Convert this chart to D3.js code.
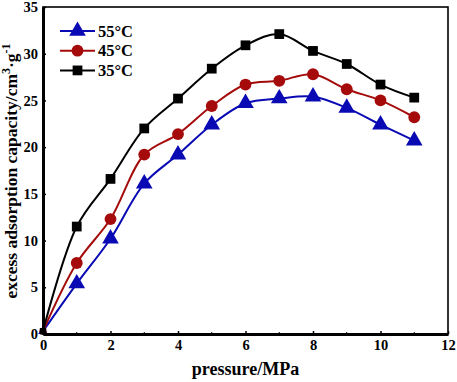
<!DOCTYPE html>
<html>
<head>
<meta charset="utf-8">
<script src="https://cdn.jsdelivr.net/npm/d3@7"></script>
<style>
  body { margin: 0; background: #fff; }
  text { font-family: "Liberation Serif", "Times New Roman", serif; font-weight: bold; }
</style>
</head>
<body>
<div id="chart"></div>
<script>
const pressure = [0, 1, 2, 3, 4, 5, 6, 7, 8, 9, 10, 11];
const cap55 = [0.3, 5.4, 10.2, 16.1, 19.2, 22.4, 24.7, 25.2, 25.4, 24.2, 22.4, 20.7];
const cap45 = [0.3, 7.6, 12.3, 19.2, 21.4, 24.4, 26.7, 27.1, 27.8, 26.2, 25.0, 23.2];
const cap35 = [0.3, 11.5, 16.6, 22.0, 25.2, 28.4, 30.9, 32.1, 30.3, 28.9, 26.7, 25.3];
const seriesNames = ['55°C', '45°C', '35°C'];
const xTicks = [0, 2, 4, 6, 8, 10, 12];
const yTicks = [0, 5, 10, 15, 20, 25, 30, 35];

const width = 457, height = 382;
const margin = { left: 43, right: 9, top: 7, bottom: 48 };

const series = [
    { name: seriesNames[0], values: cap55, color: '#0a0ab4', shape: d3.symbolTriangle, size: 120 },
    { name: seriesNames[1], values: cap45, color: '#a50b0b', shape: d3.symbolCircle, size: 110 },
    { name: seriesNames[2], values: cap35, color: '#000000', shape: d3.symbolSquare, size: 95 }
];

const svg = d3.select("#chart")
    .append("svg")
    .attr("width", width)
    .attr("height", height);

const x = d3.scaleLinear().domain([0, 12]).range([margin.left, width - margin.right]);
const y = d3.scaleLinear().domain([0, 35]).range([height - margin.bottom, margin.top]);

// frame
svg.append("rect")
    .attr("x", x(0)).attr("y", y(35))
    .attr("width", x(12) - x(0)).attr("height", y(0) - y(35))
    .attr("fill", "none").attr("stroke", "#000").attr("stroke-width", 1.6);

const line = d3.line()
    .x((d, i) => x(pressure[i]))
    .y(d => y(d))
    .curve(d3.curveCatmullRom.alpha(0.5));

series.forEach(s => {
    svg.append("path")
        .datum(s.values)
        .attr("d", line)
        .attr("fill", "none")
        .attr("stroke", s.color)
        .attr("stroke-width", 2);
    svg.append("g")
        .selectAll("path")
        .data(s.values)
        .enter()
        .append("path")
        .attr("transform", (d, i) => `translate(${x(pressure[i])},${y(d)})`)
        .attr("d", (d, i) => d3.symbol().type(s.shape).size(i === 0 ? 40 : s.size)())
        .attr("fill", s.color);
});

// axes (thick left / bottom, inward ticks)
const xAxis = svg.append("g")
    .attr("transform", `translate(0,${y(0)})`)
    .call(d3.axisBottom(x).tickValues(xTicks).tickSizeInner(-3).tickSizeOuter(0).tickPadding(6));
const yAxis = svg.append("g")
    .attr("transform", `translate(${x(0)},0)`)
    .call(d3.axisLeft(y).tickValues(yTicks).tickSizeInner(-3).tickSizeOuter(0).tickPadding(5));

[xAxis, yAxis].forEach(a => {
    a.select(".domain").attr("stroke", "#000").attr("stroke-width", 3);
    a.selectAll(".tick line").attr("stroke", "#000").attr("stroke-width", 1.5);
    a.selectAll(".tick text").attr("fill", "#000").attr("font-size", 14.5)
        .attr("font-family", "'Liberation Serif', serif").attr("font-weight", "bold");
});

// minor x ticks
svg.append("g")
    .selectAll("line")
    .data(d3.range(1, 12, 2))
    .enter()
    .append("line")
    .attr("x1", d => x(d)).attr("x2", d => x(d))
    .attr("y1", y(0)).attr("y2", y(0) - 2)
    .attr("stroke", "#000").attr("stroke-width", 1);

// axis titles
svg.append("text")
    .attr("x", (x(0) + x(12)) / 2)
    .attr("y", 375)
    .attr("text-anchor", "middle")
    .attr("font-size", 18)
    .text("pressure/MPa");

const yLabel = svg.append("text")
    .attr("transform", `translate(17,171) rotate(-90)`)
    .attr("text-anchor", "middle")
    .attr("font-size", 17.5);
yLabel.append("tspan").text("excess adsorption capacity/cm");
yLabel.append("tspan").attr("dy", -7).attr("font-size", 12).text("3");
yLabel.append("tspan").attr("dy", 7).text("·g");
yLabel.append("tspan").attr("dy", -7).attr("font-size", 12).text("-1");

// legend
const legend = svg.append("g");
series.forEach((s, i) => {
    const ly = 31 + i * 19.7;
    legend.append("line")
        .attr("x1", 60).attr("x2", 95)
        .attr("y1", ly).attr("y2", ly)
        .attr("stroke", s.color).attr("stroke-width", 2);
    legend.append("path")
        .attr("transform", `translate(77.5,${ly})`)
        .attr("d", d3.symbol().type(s.shape).size(s.size))
        .attr("fill", s.color);
    legend.append("text")
        .attr("x", 98).attr("y", ly + 5.5)
        .attr("font-size", 16.5)
        .attr("font-weight", "normal")
        .text(s.name);
});
</script>
</body>
</html>
